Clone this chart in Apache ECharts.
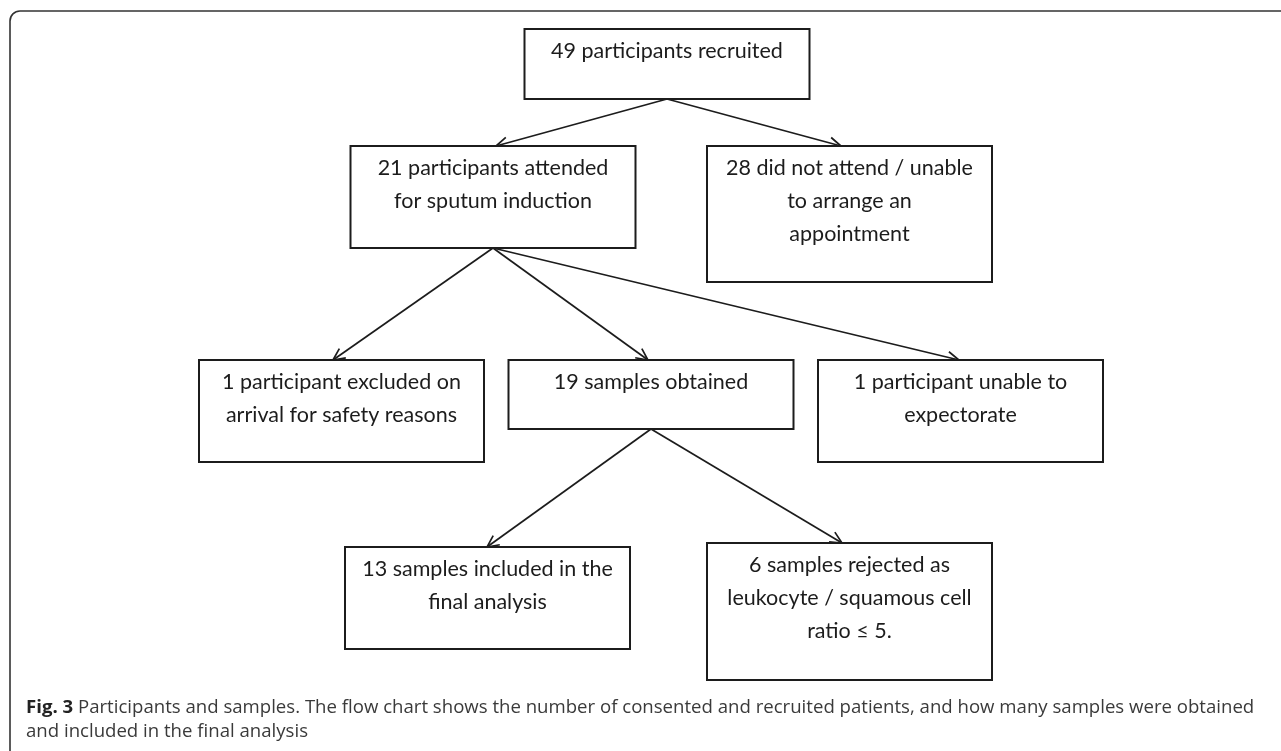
<!DOCTYPE html>
<html><head><meta charset="utf-8">
<script src="https://cdn.jsdelivr.net/npm/echarts@6/dist/echarts.min.js"></script>
<style>html,body{margin:0;padding:0;background:#fff;}#c{width:1281px;height:751px;}</style>
</head><body><div id="c"></div>
<script>
// ---- flow chart content ----
const nodeLabels = [
  '49 participants recruited',
  '21 participants attended\nfor sputum induction',
  '28 did not attend / unable\nto arrange an\nappointment',
  '1 participant excluded on\narrival for safety reasons',
  '19 samples obtained',
  '1 participant unable to\nexpectorate',
  '13 samples included in the\nfinal analysis',
  '6 samples rejected as\nleukocyte / squamous cell\nratio \u2264 5.'
];
// node placement in diagram units (centre x, top y, height)
const nodeX = [667, 493, 849.5, 341.5, 651, 960.5, 487.5, 849.5];
const nodeTop = [29, 146, 146, 360, 360, 360, 547, 543];
const nodeHeight = [70, 102, 136, 102, 69, 102, 102, 137];
const nodeWidth = 285;
// edges (parent -> child) and where each arrow meets the child box
const edgeFrom = [0, 0, 1, 1, 1, 4, 4];
const edgeTo   = [1, 2, 3, 4, 5, 6, 7];
const edgeTipX = [496, 841, 333, 648, 959, 487, 842];
const captionBold = 'Fig. 3';
const captionLine1 = ' Participants and samples. The flow chart shows the number of consented and recruited patients, and how many samples were obtained';
const captionLine2 = 'and included in the final analysis';

const chart = echarts.init(document.getElementById('c'), null, {renderer: 'canvas'});
const ink = '#1c1c1c';

const nodeData = nodeLabels.map((t, i) => [nodeX[i], nodeTop[i], nodeHeight[i]]);
const edgeData = edgeFrom.map((f, k) => [nodeX[f], nodeTop[f] + nodeHeight[f], edgeTipX[k], nodeTop[edgeTo[k]]]);

chart.setOption({
  animation: false,
  backgroundColor: '#fff',
  grid: {left: 0, right: 0, top: 0, bottom: 0},
  xAxis: {type: 'value', min: 0, max: 1281, show: false},
  yAxis: {type: 'value', min: 0, max: 751, inverse: true, show: false},
  graphic: [
    {type: 'rect', shape: {x: 10, y: 11, width: 1300, height: 760, r: 10},
     style: {fill: 'none', stroke: '#333', lineWidth: 1.6}, z: 1},
    {type: 'text', left: 26, top: 696, z: 10,
     style: {text: '{b|' + captionBold + '}' + captionLine1 + '\n' + captionLine2,
       font: '18.6px "Open Sans"', fill: '#3a3a3a', lineHeight: 24,
       rich: {b: {fontWeight: 'bold', fontSize: 18.6, fontFamily: 'Open Sans', fill: '#222', lineHeight: 24}}}}
  ],
  series: [
    {
      type: 'custom', coordinateSystem: 'cartesian2d', z: 3,
      data: edgeData,
      renderItem: function (params, api) {
        const a = api.coord([api.value(0), api.value(1)]);
        const b = api.coord([api.value(2), api.value(3)]);
        const ang = Math.atan2(b[1] - a[1], b[0] - a[0]);
        const L = 13, h = 0.45;
        const p1 = [b[0] - L * Math.cos(ang - h), b[1] - L * Math.sin(ang - h)];
        const p2 = [b[0] - L * Math.cos(ang + h), b[1] - L * Math.sin(ang + h)];
        return {type: 'group', children: [
          {type: 'line', shape: {x1: a[0], y1: a[1], x2: b[0], y2: b[1]},
           style: {stroke: ink, lineWidth: 1.7}},
          {type: 'polyline', shape: {points: [p1, b, p2]},
           style: {stroke: ink, lineWidth: 1.7, fill: 'none'}}
        ]};
      }
    },
    {
      type: 'custom', coordinateSystem: 'cartesian2d', z: 4,
      data: nodeData,
      renderItem: function (params, api) {
        const i = params.dataIndex;
        const tl = api.coord([api.value(0) - nodeWidth / 2, api.value(1)]);
        const sz = api.size([nodeWidth, api.value(2)]);
        return {type: 'group', children: [
          {type: 'rect', shape: {x: tl[0], y: tl[1], width: sz[0], height: sz[1]},
           style: {fill: '#fff', stroke: ink, lineWidth: 2}},
          {type: 'text', x: tl[0] + sz[0] / 2, y: tl[1] + 6,
           style: {text: nodeLabels[i], align: 'center', verticalAlign: 'top',
             font: '21.5px Lato', lineHeight: 33, fill: ink}}
        ]};
      }
    }
  ]
});
</script></body></html>
